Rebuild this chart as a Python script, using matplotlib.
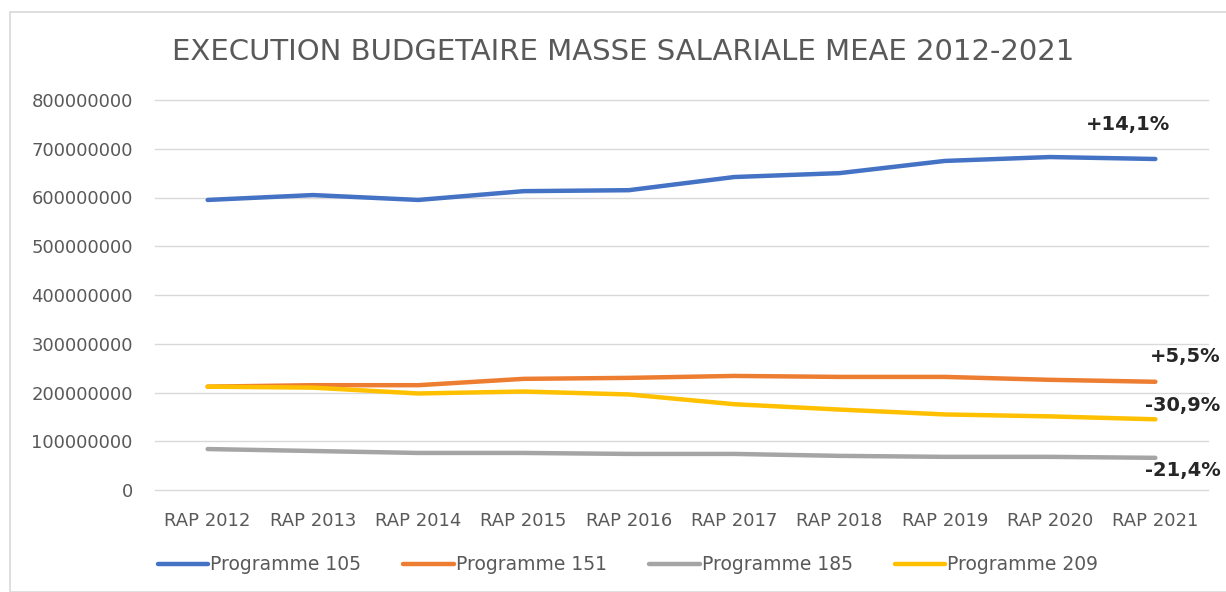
import numpy as np
import matplotlib.pyplot as plt
from matplotlib.patches import Rectangle

# data
years = ['RAP 2012', 'RAP 2013', 'RAP 2014', 'RAP 2015', 'RAP 2016',
         'RAP 2017', 'RAP 2018', 'RAP 2019', 'RAP 2020', 'RAP 2021']
prog_105 = [595, 605, 595, 613, 615, 642, 650, 675, 683, 679]
prog_151 = [212, 215, 215, 228, 230, 234, 232, 232, 226, 222]
prog_185 = [84, 80, 76, 76, 74, 74, 70, 68, 68, 66]
prog_209 = [212, 210, 198, 202, 196, 176, 165, 155, 151, 145]
series_names = ['Programme 105', 'Programme 151', 'Programme 185', 'Programme 209']
changes = ['+14,1%', '+5,5%', '-21,4%', '-30,9%']
y_ticks = [0, 100, 200, 300, 400, 500, 600, 700, 800]

colors = ['#4472C4', '#ED7D31', '#A5A5A5', '#FFC000']
grey_txt = '#595959'

fig = plt.figure(figsize=(12.26, 5.92), dpi=100)
ax = fig.add_axes([155 / 1226, 102 / 592, 1053 / 1226, 390 / 592])

# chart frame like the excel chart area
fig.patches.append(Rectangle((10 / 1226, 0), 1.2, (592 - 12) / 592,
                             transform=fig.transFigure, fill=False,
                             edgecolor='#D9D9D9', linewidth=1.2))

x = np.arange(len(years))
data = [prog_105, prog_151, prog_185, prog_209]
for vals, name, c in zip(data, series_names, colors):
    ax.plot(x, np.array(vals) * 1e6, color=c, linewidth=3.2, label=name,
            solid_capstyle='round')

ax.set_xlim(-0.5, len(years) - 0.5)
ax.set_ylim(0, 800e6)
ax.set_yticks([v * 1e6 for v in y_ticks])
ax.set_yticklabels([str(v * 1000000) for v in y_ticks])
ax.set_xticks(x)
ax.set_xticklabels(years)
ax.tick_params(axis='both', length=0, colors=grey_txt, labelsize=13)
ax.tick_params(axis='y', pad=16)
ax.tick_params(axis='x', pad=16)
ax.grid(axis='y', color='#D9D9D9', linewidth=1)
for gl in ax.get_ygridlines():
    gl.set_clip_on(False)
ax.set_axisbelow(True)
for s in ax.spines.values():
    s.set_visible(False)

# percentage labels at the end of each line
lab_kw = dict(fontsize=14, fontweight='bold', color='#262626', va='center')
ax.text(8.74, 749e6, changes[0], ha='center', **lab_kw)
ax.text(9.62, 273e6, changes[1], ha='right', **lab_kw)
ax.text(9.62, 41e6, changes[2], ha='right', **lab_kw)
ax.text(9.62, 174e6, changes[3], ha='right', **lab_kw)

fig.text(623 / 1226, 1 - 52 / 592, 'EXECUTION BUDGETAIRE MASSE SALARIALE MEAE 2012-2021',
         ha='center', va='center', fontsize=21, color=grey_txt)

leg = fig.legend(loc='center', bbox_to_anchor=(628 / 1226, 1 - 565 / 592), ncol=4,
                 frameon=False, fontsize=13.5, handlelength=2.7, handletextpad=0.1,
                 columnspacing=2.25)
for t in leg.get_texts():
    t.set_color(grey_txt)

fig.savefig('out.png', dpi=100)
